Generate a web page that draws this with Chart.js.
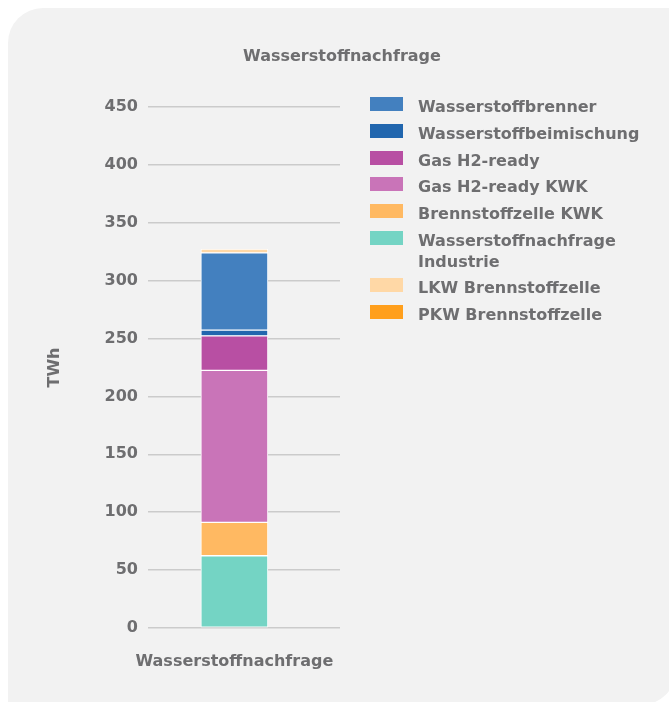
<!DOCTYPE html>
<html>
<head>
<meta charset="utf-8">
<script src="https://cdn.jsdelivr.net/npm/chart.js@4/dist/chart.umd.min.js"></script>
<style>
  html, body { margin: 0; padding: 0; background: #fff; }
  #wrap { position: relative; width: 669px; height: 702px; overflow: hidden; }
  #card {
    position: absolute; left: 8px; top: 8px; width: 668px; height: 697px;
    background: #f2f2f2; border-radius: 35px 0 35px 0;
  }
  #chart { position: absolute; left: 0; top: 0; }
  #legend {
    position: absolute; left: 370px; top: 93.8px;
    font: bold 16px "DejaVu Sans", sans-serif; color: #6e6e70;
  }
  .item { display: flex; align-items: flex-start; margin-bottom: 5.7px; }
  .box { flex: none; width: 33px; height: 14px; margin-top: 3.5px; margin-right: 15px; }
  .txt { line-height: 21px; position: relative; top: 2.5px; }
</style>
</head>
<body>
<div id="wrap">
  <div id="card"></div>
  <canvas id="chart" width="669" height="702"></canvas>
  <div id="legend"></div>
</div>
<script>
// one category, stacked from the bottom up
const categories = ['Wasserstoffnachfrage'];
const seriesNames = [
  'Wasserstoffnachfrage Industrie',
  'Brennstoffzelle KWK',
  'Gas H2-ready KWK',
  'Gas H2-ready',
  'Wasserstoffbeimischung',
  'Wasserstoffbrenner',
  'LKW Brennstoffzelle',
  'PKW Brennstoffzelle'
];
const seriesValues = [62.4, 28.8, 131.3, 29.8, 5.0, 66.7, 3.3, 0];
const seriesColors = ['#74d4c4', '#ffb962', '#c974b8', '#b84fa3', '#2166ae', '#4380bf', '#ffd8a6', '#ff9f1c'];
const legendOrder = [5, 4, 3, 2, 1, 0, 6, 7];
const legendLines = {0: ['Wasserstoffnachfrage', 'Industrie']};
const yTicks = [0, 50, 100, 150, 200, 250, 300, 350, 400, 450];

const grey = '#6e6e70';
const font = { family: '"DejaVu Sans", sans-serif', size: 16, weight: 'bold' };

const datasets = seriesNames.map((name, i) => ({
  label: name,
  data: [{ x: 0, y: seriesValues[i] }],
  backgroundColor: seriesColors[i],
  borderColor: '#ffffff',
  borderWidth: 1,
  borderSkipped: false,
  barThickness: 67
}));

new Chart(document.getElementById('chart'), {
  type: 'bar',
  data: { datasets },
  options: {
    responsive: false,
    animation: false,
    events: [],
    layout: { padding: { left: 15, right: 0, top: 0, bottom: 0 } },
    plugins: {
      legend: { display: false },
      tooltip: { enabled: false },
      title: {
        display: true,
        text: 'Wasserstoffnachfrage',
        color: grey,
        font,
        padding: { top: 47, bottom: 40.8 }
      }
    },
    scales: {
      x: {
        type: 'linear',
        bounds: 'data',
        offset: false,
        stacked: true,
        min: -0.9,
        max: 1.1,
        afterDataLimits: s => { s.min = -0.9; s.max = 1.1; },
        grid: { display: false, drawTicks: false },
        border: { display: false },
        afterBuildTicks: s => { s.ticks = categories.map((c, i) => ({ value: i })); },
        ticks: {
          color: grey,
          font,
          padding: 24,
          callback: v => categories[v]
        },
        afterFit: s => { s.height = 74; }
      },
      y: {
        stacked: true,
        min: 0,
        max: 450,
        afterBuildTicks: s => { s.ticks = yTicks.map(v => ({ value: v })); },
        grid: { color: '#cbcbcb', lineWidth: 1.5, drawTicks: false },
        border: { display: false },
        ticks: { color: grey, font, padding: 10 },
        title: {
          display: true,
          text: 'TWh',
          color: grey,
          font,
          padding: { top: 30.4, bottom: 0 }
        },
        afterFit: s => { s.width = 133; }
      },
      y2: {
        type: 'linear',
        position: 'right',
        grid: { display: false, drawTicks: false },
        border: { display: false },
        ticks: { display: false },
        afterFit: s => { s.width = 329; }
      }
    }
  }
});

// legend in the right column
const legend = document.getElementById('legend');
legendOrder.forEach(i => {
  const item = document.createElement('div');
  item.className = 'item';
  const box = document.createElement('span');
  box.className = 'box';
  box.style.background = seriesColors[i];
  const txt = document.createElement('span');
  txt.className = 'txt';
  txt.innerHTML = (legendLines[i] || [seriesNames[i]]).join('<br>');
  item.appendChild(box);
  item.appendChild(txt);
  legend.appendChild(item);
});
</script>
</body>
</html>
